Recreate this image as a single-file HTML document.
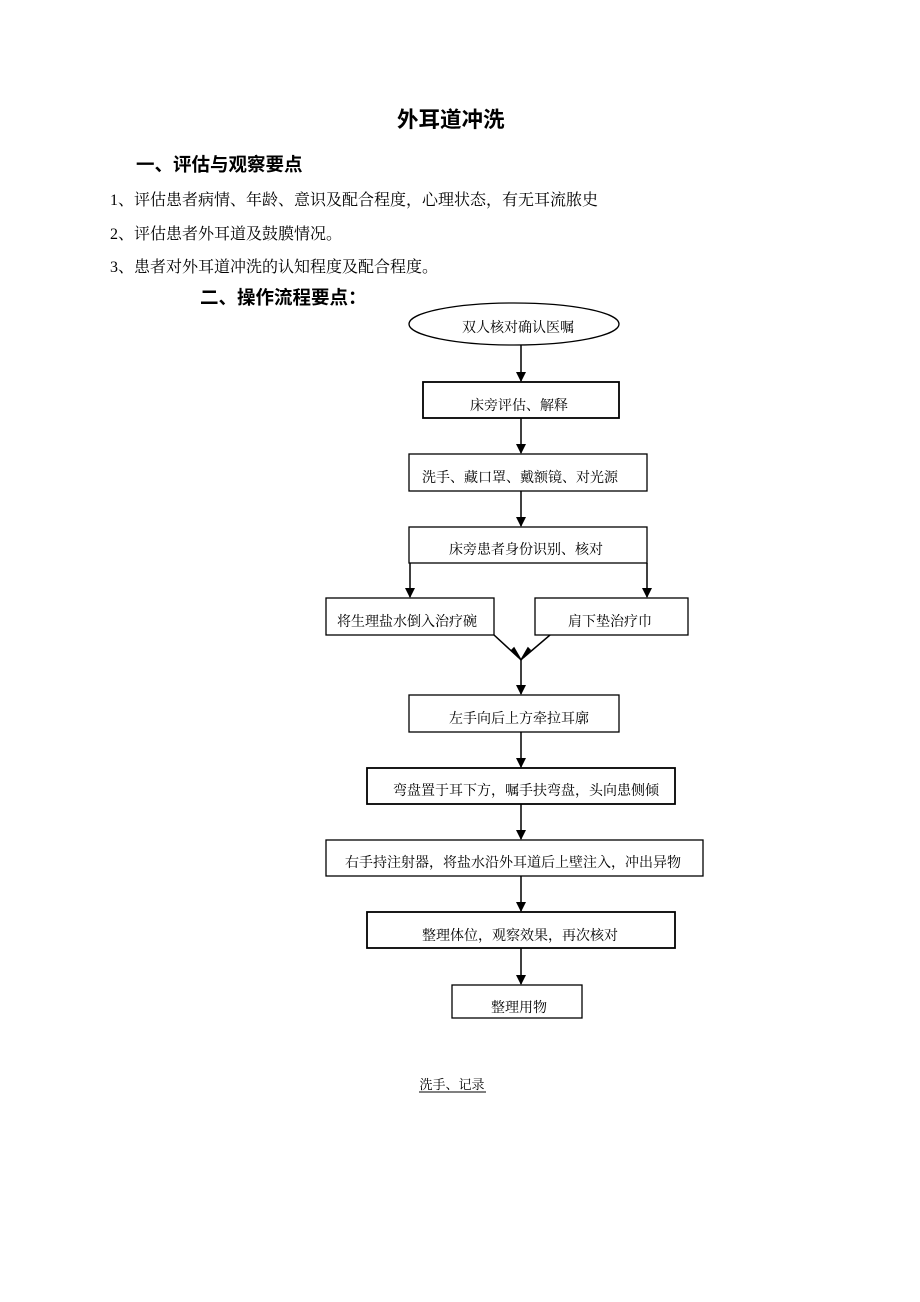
<!DOCTYPE html>
<html><head><meta charset="utf-8"><style>
body{margin:0;width:920px;height:1302px;background:#fff;position:relative;font-family:"Liberation Serif","Noto Serif CJK SC","Noto Sans CJK SC",serif;color:#000}
.t{position:absolute;white-space:nowrap}
.b{font-family:"Liberation Sans","Noto Sans CJK SC",sans-serif;font-weight:bold}
</style></head><body>
<div class="t b" style="left:397px;top:103px;font-size:21.5px">外耳道冲洗</div>
<div class="t b" style="left:136px;top:151px;font-size:18.5px">一、评估与观察要点</div>
<div class="t" style="left:110px;top:187px;font-size:16px">1、评估患者病情、年龄、意识及配合程度，心理状态，有无耳流脓史</div>
<div class="t" style="left:110px;top:221px;font-size:16px">2、评估患者外耳道及鼓膜情况。</div>
<div class="t" style="left:110px;top:254px;font-size:16px">3、患者对外耳道冲洗的认知程度及配合程度。</div>
<div class="t b" style="left:200px;top:284px;font-size:18.5px">二、操作流程要点：</div>
<svg width="920" height="1302" style="position:absolute;left:0;top:0" font-family="Liberation Serif, Noto Serif CJK SC, serif" font-size="14">
<defs><marker id="a" markerWidth="10" markerHeight="10" refX="5" refY="9" orient="0" markerUnits="userSpaceOnUse"><path d="M0,0 L10,0 L5,10z" fill="#000"/></marker></defs>
<g fill="#fff" stroke="#000" stroke-width="1.3">
<ellipse cx="514" cy="324" rx="105" ry="21"/>
<rect x="423" y="382" width="196" height="36" stroke-width="1.8"/>
<rect x="409" y="454" width="238" height="37"/>
<rect x="409" y="527" width="238" height="36"/>
<rect x="326" y="598" width="168" height="37"/>
<rect x="535" y="598" width="153" height="37"/>
<rect x="409" y="695" width="210" height="37"/>
<rect x="367" y="768" width="308" height="36" stroke-width="1.8"/>
<rect x="326" y="840" width="377" height="36"/>
<rect x="367" y="912" width="308" height="36" stroke-width="1.8"/>
<rect x="452" y="985" width="130" height="33"/>
</g>
<g stroke="#000" stroke-width="1.5" fill="none">
<line x1="521" y1="345" x2="521" y2="381" marker-end="url(#a)"/>
<line x1="521" y1="418" x2="521" y2="453" marker-end="url(#a)"/>
<line x1="521" y1="491" x2="521" y2="526" marker-end="url(#a)"/>
<line x1="410" y1="563" x2="410" y2="597" marker-end="url(#a)"/>
<line x1="647" y1="563" x2="647" y2="597" marker-end="url(#a)"/>
<line x1="494" y1="635" x2="519" y2="658"/>
<line x1="550" y1="635" x2="523" y2="658"/>
<path d="M512,650 L521,660 L514,648z M530,650 L521,660 L528,648z" fill="#000"/>
<line x1="521" y1="660" x2="521" y2="694" marker-end="url(#a)"/>
<line x1="521" y1="732" x2="521" y2="767" marker-end="url(#a)"/>
<line x1="521" y1="804" x2="521" y2="839" marker-end="url(#a)"/>
<line x1="521" y1="876" x2="521" y2="911" marker-end="url(#a)"/>
<line x1="521" y1="948" x2="521" y2="984" marker-end="url(#a)"/>
</g>
<g text-anchor="middle">
<text x="518" y="332">双人核对确认医嘱</text>
<text x="519" y="410">床旁评估、解释</text>
<text x="520" y="482">洗手、藏口罩、戴额镜、对光源</text>
<text x="526" y="554">床旁患者身份识别、核对</text>
<text x="407" y="626">将生理盐水倒入治疗碗</text>
<text x="610" y="626">肩下垫治疗巾</text>
<text x="519" y="723">左手向后上方牵拉耳廓</text>
<text x="526" y="795">弯盘置于耳下方，嘱手扶弯盘，头向患侧倾</text>
<text x="513" y="867">右手持注射器，将盐水沿外耳道后上壁注入，冲出异物</text>
<text x="520" y="940">整理体位，观察效果，再次核对</text>
<text x="519" y="1012">整理用物</text>
<text x="452" y="1089" font-size="13">洗手、记录</text>
</g>
<line x1="419" y1="1092" x2="486" y2="1092" stroke="#000" stroke-width="1"/>
</svg>
</body></html>
